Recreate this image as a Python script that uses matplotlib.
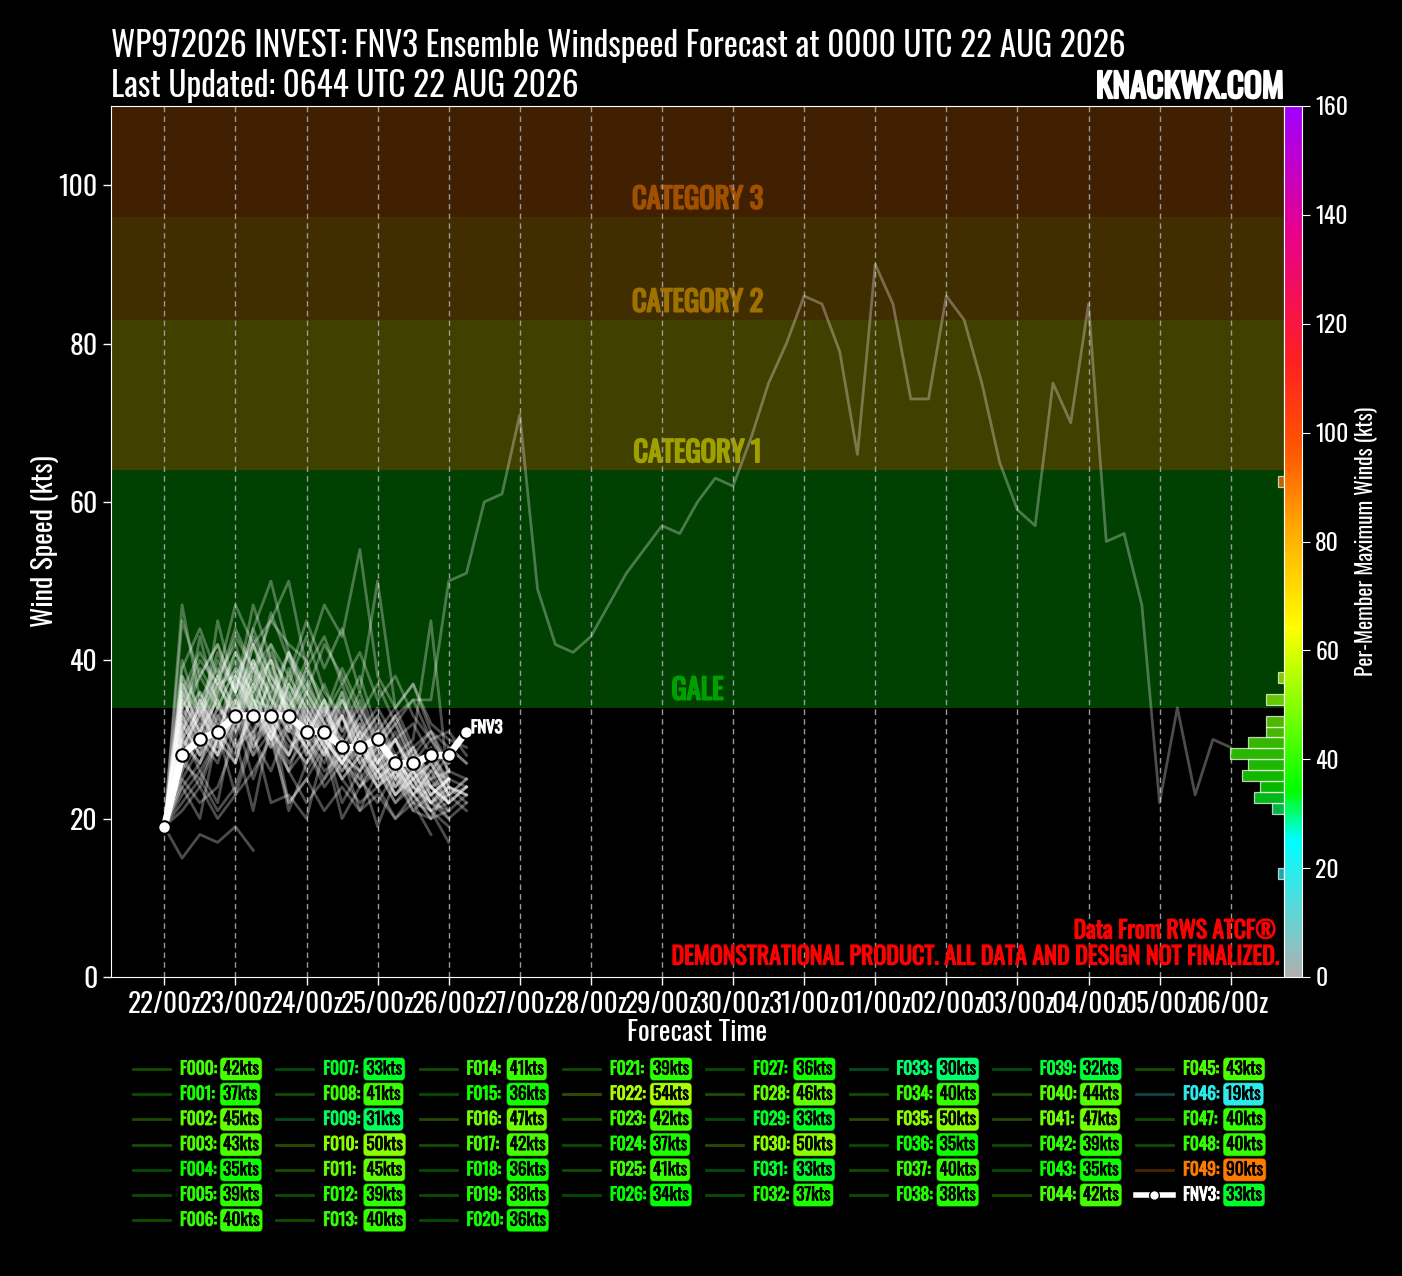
import numpy as np
import matplotlib
matplotlib.use("Agg")
import matplotlib.pyplot as plt
from matplotlib import font_manager as fm
from matplotlib import patheffects as pe
from matplotlib.colors import LinearSegmentedColormap, Normalize
from matplotlib.lines import Line2D
from matplotlib.colorbar import ColorbarBase

# ---------------- data ----------------
day_labels = ["22/00z", "23/00z", "24/00z", "25/00z", "26/00z", "27/00z", "28/00z", "29/00z",
              "30/00z", "31/00z", "01/00z", "02/00z", "03/00z", "04/00z", "05/00z", "06/00z"]

fnv3 = [19, 28, 30, 31, 33, 33, 33, 33, 31, 31, 29, 29, 30, 27, 27, 28, 28, 31]

f000 = [19, 33, 36, 30, 38, 42, 35, 33, 37, 31, 30, 28, 32, 27, 25, 29, 24, 23]
f001 = [19, 28, 31, 35, 29, 33, 37, 31, 30, 27, 33, 29, 26, 28, 24, 22, 25]
f002 = [19, 38, 30, 45, 36, 40, 33, 38, 34, 29, 35, 31, 27, 30, 26, 28, 23, 25]
f003 = [19, 30, 43, 34, 32, 39, 36, 41, 33, 30, 36, 28, 31, 25, 27, 24, 22]
f004 = [19, 24, 27, 31, 28, 35, 30, 26, 33, 29, 25, 28, 24, 26, 22, 21]
f005 = [19, 35, 31, 28, 34, 30, 39, 33, 29, 31, 27, 30, 26, 23, 25, 24, 22, 24]
f006 = [19, 26, 34, 38, 31, 36, 40, 34, 30, 35, 28, 26, 31, 27, 23, 26, 25]
f007 = [19, 23, 26, 22, 33, 25, 31, 21, 27, 30, 22, 26, 19, 25, 21, 20]
f008 = [19, 32, 28, 36, 41, 35, 30, 37, 32, 28, 33, 27, 29, 24, 26, 22, 24, 23]
f009 = [19, 22, 25, 21, 24, 31, 22, 23, 20, 29, 25, 22, 24, 20, 23, 21, 19]
f010 = [19, 34, 38, 42, 36, 44, 50, 41, 37, 33, 39, 34, 30, 33, 28, 31, 26, 25]
f011 = [19, 40, 33, 37, 38, 35, 34, 41, 35, 31, 36, 30, 33, 28, 30, 45, 24]
f012 = [19, 30, 27, 33, 35, 39, 31, 28, 34, 30, 27, 31, 25, 28, 24, 22, 23, 21]
f013 = [19, 36, 29, 34, 31, 37, 40, 32, 29, 33, 30, 26, 29, 24, 27, 23, 25]
f014 = [19, 27, 35, 30, 38, 33, 41, 36, 31, 34, 28, 32, 27, 25, 29, 24, 22]
f015 = [19, 25, 29, 32, 27, 34, 30, 36, 28, 31, 26, 29, 25, 27, 23, 20, 24, 22]
f016 = [19, 47, 35, 39, 33, 42, 37, 34, 38, 32, 35, 30, 33, 27, 29, 25, 28]
f017 = [19, 29, 33, 38, 42, 35, 31, 37, 34, 30, 33, 28, 31, 26, 24, 27, 23, 25]
f018 = [19, 31, 26, 30, 34, 28, 36, 30, 27, 32, 29, 25, 28, 23, 26, 22, 21]
f019 = [19, 27, 32, 28, 35, 31, 38, 33, 29, 34, 27, 30, 26, 28, 24, 23, 25]
f020 = [19, 33, 28, 31, 36, 29, 33, 30, 27, 31, 25, 28, 24, 26, 21, 23, 20, 22]
f021 = [19, 28, 35, 31, 37, 33, 29, 39, 32, 28, 34, 29, 26, 30, 25, 27, 23]
f022 = [19, 36, 41, 37, 44, 39, 45, 42, 40, 47, 43, 54, 38, 34, 37, 31, 29, 27]
f023 = [19, 32, 38, 34, 39, 36, 42, 35, 32, 37, 31, 34, 29, 32, 27, 25, 26]
f024 = [19, 30, 34, 28, 32, 37, 33, 29, 31, 35, 28, 26, 30, 25, 23, 26, 22, 24]
f025 = [19, 37, 31, 35, 30, 39, 34, 41, 36, 32, 29, 33, 27, 30, 26, 28, 24]
f026 = [19, 26, 30, 27, 34, 29, 32, 27, 30, 26, 28, 24, 27, 23, 25, 21, 22]
f027 = [19, 29, 33, 30, 27, 36, 31, 28, 33, 29, 26, 30, 25, 27, 22, 24, 21, 23]
f028 = [19, 34, 39, 35, 41, 37, 46, 40, 36, 42, 38, 33, 37, 32, 35, 30, 27]
f029 = [19, 24, 20, 31, 23, 30, 33, 22, 25, 29, 20, 24, 26, 22, 25, 21, 23]
f030 = [19, 35, 40, 37, 43, 39, 42, 38, 45, 39, 44, 36, 50, 34, 37, 32, 30, 29]
f031 = [19, 27, 25, 30, 33, 28, 31, 26, 29, 24, 27, 25, 22, 26, 23, 20, 21]
f032 = [19, 31, 35, 29, 33, 37, 30, 34, 28, 31, 27, 30, 24, 27, 25, 22, 24, 23]
f033 = [19, 21, 24, 20, 23, 26, 30, 22, 25, 21, 24, 21, 23, 20, 22, 18]
f034 = [19, 33, 29, 36, 40, 34, 31, 37, 33, 29, 35, 30, 27, 31, 26, 24, 25]
f035 = [19, 39, 44, 38, 47, 42, 45, 50, 39, 43, 37, 41, 35, 38, 33, 30, 31, 28]
f036 = [19, 28, 24, 30, 27, 35, 29, 32, 26, 30, 27, 24, 28, 23, 26, 22, 20]
f037 = [19, 35, 31, 37, 33, 40, 35, 31, 36, 32, 29, 33, 28, 30, 25, 27, 23, 24]
f038 = [19, 30, 34, 29, 33, 38, 32, 28, 35, 30, 27, 31, 26, 24, 28, 23, 25]
f039 = [19, 25, 22, 24, 30, 21, 32, 26, 22, 25, 28, 21, 26, 22, 24, 21, 17]
f040 = [19, 37, 33, 40, 36, 44, 38, 34, 39, 35, 31, 36, 30, 33, 28, 26, 29, 27]
f041 = [19, 45, 38, 42, 36, 47, 40, 37, 43, 36, 33, 38, 31, 34, 29, 31, 27]
f042 = [19, 32, 28, 34, 39, 33, 30, 35, 31, 28, 33, 27, 30, 25, 28, 24, 26]
f043 = [19, 27, 31, 28, 35, 30, 26, 32, 29, 25, 30, 27, 24, 28, 23, 25, 22, 24]
f044 = [19, 36, 32, 38, 34, 42, 37, 33, 39, 34, 30, 35, 29, 32, 27, 30, 26]
f045 = [19, 38, 34, 41, 36, 43, 38, 35, 40, 33, 37, 31, 34, 30, 32, 28, 25]
f046 = [19, 15, 18, 17, 19, 16]
f047 = [19, 31, 36, 32, 38, 34, 40, 33, 30, 35, 29, 32, 27, 30, 26, 23, 25, 24]
f048 = [19, 34, 30, 37, 33, 40, 35, 31, 36, 30, 33, 28, 31, 26, 29, 24, 22]
f049 = [19, 30, 27, 33, 29, 31, 34, 28, 32, 30, 27, 31, 29, 33, 35, 35, 50, 51, 60, 61,
        71, 49, 42, 41, 43, 47, 51, 54, 57, 56, 60, 63, 62, 68, 75, 80, 86, 85, 79, 66,
        90, 85, 73, 73, 86, 83, 75, 65, 59, 57, 75, 70, 85, 55, 56, 47, 22, 34, 23, 30, 29]

members = [f000, f001, f002, f003, f004, f005, f006, f007, f008, f009,
           f010, f011, f012, f013, f014, f015, f016, f017, f018, f019,
           f020, f021, f022, f023, f024, f025, f026, f027, f028, f029,
           f030, f031, f032, f033, f034, f035, f036, f037, f038, f039,
           f040, f041, f042, f043, f044, f045, f046, f047, f048, f049]
member_names = ["F%03d" % i for i in range(len(members))]

band_names = ["GALE", "CATEGORY 1", "CATEGORY 2", "CATEGORY 3"]
band_lows = [34, 64, 83, 96]
band_highs = [64, 83, 96, 200]
band_text_colors = ["#00a000", "#a0a000", "#a07000", "#a05000"]
band_fill_colors = ["#004000", "#404000", "#402d00", "#402000"]

# ---------------- fonts ----------------
fonts = fm.fontManager.ttflist
names_avail = {f.name for f in fonts}
FONT = "DejaVu Sans"
for cand in ["Oswald", "Roboto Condensed", "Liberation Sans Narrow"]:
    if cand in names_avail:
        FONT = cand
        break


def _wt(w):
    if isinstance(w, str):
        return {"light": 300, "normal": 400, "regular": 400, "medium": 500,
                "semibold": 600, "bold": 700, "heavy": 800, "black": 900}.get(w.lower(), 400)
    return w


fam_weights = {_wt(f.weight) for f in fonts if f.name == FONT}
HAS_BOLD = any(w >= 600 for w in fam_weights)
HAS_LIGHT = any(w <= 350 for w in fam_weights)
plt.rcParams["font.family"] = [FONT, "DejaVu Sans"]


def bold_kw(color, stroke=0.9):
    if HAS_BOLD:
        return dict(fontweight="bold", color=color)
    return dict(color=color, path_effects=[pe.withStroke(linewidth=stroke, foreground=color)])


LIGHT = "light" if HAS_LIGHT else "normal"

W, H = 1402, 1276
fig = plt.figure(figsize=(W / 100, H / 100), dpi=100, facecolor="black")


def fx(px):
    return px / W


def fy(py):
    return 1 - py / H


AX_L, AX_R, AX_T, AX_B = 111, 1284, 106, 977
ax = fig.add_axes([fx(AX_L), fy(AX_B), fx(AX_R - AX_L), (AX_B - AX_T) / H])
ax.set_facecolor("black")

cmap = LinearSegmentedColormap.from_list("knack", [
    (0 / 160, "#b0b0b0"), (25 / 160, "#00ffff"), (34 / 160, "#00ff00"),
    (64 / 160, "#ffff00"), (83 / 160, "#ffa500"), (96 / 160, "#ff5a00"),
    (113 / 160, "#ff2020"), (137 / 160, "#e8008c"), (160 / 160, "#a000ff")])
norm = Normalize(0, 160)

# bands
for lo, hi, fc, tc, nm in zip(band_lows, band_highs, band_fill_colors, band_text_colors, band_names):
    ax.axhspan(lo, hi, color=fc, zorder=0, lw=0)
    ax.text(0.5, lo + 0.4, nm, transform=ax.get_yaxis_transform(), ha="center", va="bottom",
            fontsize=20.5, zorder=1, **bold_kw(tc, 1.3))

# member lines
for vals in members:
    hrs = 6 * np.arange(len(vals))
    ax.plot(hrs, vals, color="white", alpha=0.3, lw=2, zorder=3)

# FNV3
fh = 6 * np.arange(len(fnv3))
ax.plot(fh, fnv3, color="white", lw=5, zorder=5, marker="o", ms=9,
        markerfacecolor="white", markeredgecolor="black", markeredgewidth=1.5)
ax.text(fh[-1] + 1.5, fnv3[-1] + 0.5, "FNV3", fontsize=12, ha="left", va="center", zorder=6,
        **bold_kw("white", 0.8))

ax.set_xlim(-18, 378)
ax.set_ylim(0, 110)
ax.set_xticks(24 * np.arange(len(day_labels)))
ax.set_xticklabels(day_labels)
ax.set_yticks(np.arange(0, 101, 20))
ax.grid(axis="x", color="#9a9a9a", ls=(0, (4, 3)), lw=1)
ax.tick_params(colors="white", length=6, width=1)
ax.tick_params(axis="y", labelsize=20)
ax.tick_params(axis="x", labelsize=19.5, pad=4)
for lab in ax.get_xticklabels() + ax.get_yticklabels():
    lab.set_fontweight(LIGHT)
for s in ax.spines.values():
    s.set_color("white")
ax.set_ylabel("Wind Speed (kts)", color="white", fontsize=20, labelpad=0)
ax.set_xlabel("Forecast Time", color="white", fontsize=20, labelpad=1)

ax.text(0.9935, 0.053, "Data From RWS ATCF\u00ae", transform=ax.transAxes, ha="right", va="center",
        fontsize=17, zorder=7, **bold_kw("red", 0.9))
ax.text(0.9955, 0.023, "DEMONSTRATIONAL PRODUCT. ALL DATA AND DESIGN NOT FINALIZED.",
        transform=ax.transAxes, ha="right", va="center", fontsize=17.3, zorder=7,
        **bold_kw("red", 0.9))

# histogram of per-member maxima (incl. FNV3)
maxima = [max(v) for v in members] + [max(fnv3)]
hax = fig.add_axes([fx(1164), fy(AX_B), fx(120), (AX_B - AX_T) / H])
hax.patch.set_alpha(0)
bins = np.arange(0, 162, 2)
counts, edges = np.histogram(maxima, bins=bins)
centers = (edges[:-1] + edges[1:]) / 2
sel = counts > 0
hax.barh(centers[sel], counts[sel], height=2,
         color=[cmap(norm(c)) for c in centers[sel]], alpha=0.72,
         edgecolor=(1, 1, 1, 0.4), lw=0.9)
hax.set_ylim(0, 160)
hax.set_xlim(20, 0)
hax.axis("off")

# colorbar
cax = fig.add_axes([fx(AX_R), fy(AX_B), fx(18), (AX_B - AX_T) / H])
cb = ColorbarBase(cax, cmap=cmap, norm=norm, orientation="vertical")
cb.set_ticks(np.arange(0, 161, 20))
cb.outline.set_edgecolor("white")
cax.tick_params(colors="white", labelsize=17, length=6)
for lab in cax.get_yticklabels():
    lab.set_fontweight(LIGHT)
cb.set_label("Per-Member Maximum Winds (kts)", color="white", fontsize=15.5, labelpad=4)

# titles
fig.text(fx(111), fy(57), "WP972026 INVEST: FNV3 Ensemble Windspeed Forecast at 0000 UTC 22 AUG 2026",
         color="white", fontsize=24, fontweight=LIGHT, ha="left", va="baseline")
fig.text(fx(111), fy(97), "Last Updated: 0644 UTC 22 AUG 2026", color="white", fontsize=24,
         fontweight=LIGHT, ha="left", va="baseline")
fig.text(fx(1284), fy(98), "KNACKWX.COM", fontsize=24, ha="right", va="baseline",
         **bold_kw("white", 1.6))

# legend (manual, 8 columns, column-major like matplotlib ncol=8: 7,7,7,6,6,6,6,6)
col_sizes = [7, 7, 7, 6, 6, 6, 6, 6]
slots = []
for c, n in enumerate(col_sizes):
    for r in range(n):
        slots.append((c, r))

entries = [(n, max(v), cmap(norm(max(v)))) for n, v in zip(member_names, members)]
box_kw = dict(boxstyle="round,pad=0.18,rounding_size=0.25", ec=(0, 0, 0, 0.5), lw=0.8)
for (nm, mx, col), (c, r) in zip(entries, slots):
    x0 = 133 + 143.3 * c
    y0 = 1069 + 25.2 * r
    fig.add_artist(Line2D([fx(x0), fx(x0 + 37)], [fy(y0), fy(y0)], color=col, alpha=0.3, lw=2,
                          transform=fig.transFigure))
    fig.text(fx(x0 + 47), fy(y0), nm + ":", fontsize=12.5, ha="left", va="center",
             **bold_kw(col, 0.7))
    fig.text(fx(x0 + 90), fy(y0), "%dkts" % mx, color="black", fontsize=12.5, ha="left",
             va="center", bbox=dict(fc=col, **box_kw),
             path_effects=[pe.withStroke(linewidth=0.5, foreground="black")])

# FNV3 legend entry
c, r = slots[len(entries)]
x0 = 133 + 143.3 * c
y0 = 1069 + 25.2 * r
fig.add_artist(Line2D([fx(x0), fx(x0 + 18), fx(x0 + 37)], [fy(y0)] * 3, color="white", lw=4,
                      marker="o", markevery=[1], ms=7, markerfacecolor="white",
                      markeredgecolor="black", transform=fig.transFigure))
fcol = cmap(norm(max(fnv3)))
fig.text(fx(x0 + 47), fy(y0), "FNV3:", fontsize=12.5, ha="left", va="center",
         **bold_kw("white", 0.7))
fig.text(fx(x0 + 90), fy(y0), "%dkts" % max(fnv3), color="black", fontsize=12.5, ha="left",
         va="center", bbox=dict(fc=fcol, **box_kw),
         path_effects=[pe.withStroke(linewidth=0.5, foreground="black")])

fig.savefig("out.png", dpi=100, facecolor="black")
